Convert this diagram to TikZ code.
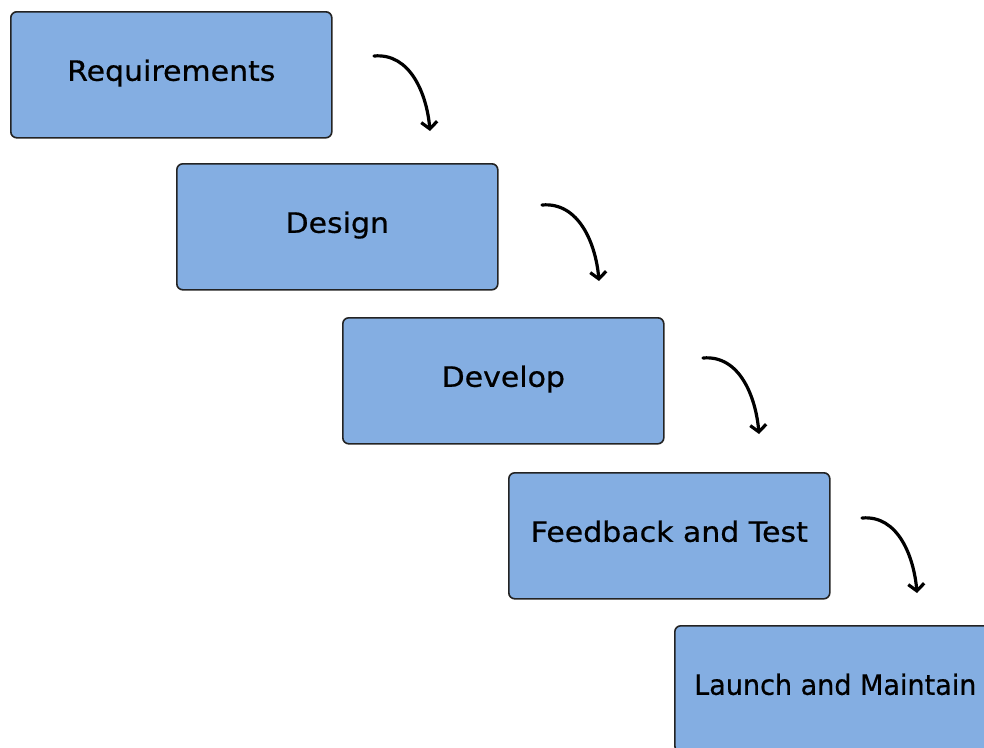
\documentclass[tikz,border=0pt]{standalone}
\usepackage{fontspec}
\setmainfont{DejaVu Sans}
\newfontfamily\stagefont[FakeStretch=1.07,FakeBold=0.6]{DejaVu Sans}
\newfontfamily\narrowstagefont[FakeStretch=0.965,FakeBold=0.6]{DejaVu Sans}
\usetikzlibrary{arrows.meta}
\definecolor{stagefill}{RGB}{132,174,226}
\definecolor{stageline}{RGB}{35,35,35}
\begin{document}
\begin{tikzpicture}[x=1pt,y=-1pt,
  stagebox/.style={draw=stageline, line width=1.6pt, fill=stagefill,
    rounded corners=6pt, minimum width=321pt, minimum height=126pt,
    inner sep=0pt, text height=22pt, text depth=10pt,
    font=\stagefont\fontsize{28}{32}\selectfont, anchor=north west},
  flow/.style={line width=3.2pt, line cap=round,
    -{Straight Barb[length=7pt,width=16pt,line width=3.2pt]}}]
  \useasboundingbox (0,0) rectangle (984,747);
  \node[stagebox] (req) at (10,11) {Requirements};
  \node[stagebox] (des) at (176,163) {Design};
  \node[stagebox] (dev) at (342,317) {Develop};
  \node[stagebox] (fbt) at (508,472) {Feedback and Test};
  \node[stagebox, font=\narrowstagefont\fontsize{28}{32}\selectfont]
    (lam) at (674,625) {Launch and Maintain};
  % arrow ends between the stages
  \coordinate (a1s) at (374,56);  \coordinate (a1e) at (430,131);
  \coordinate (a2s) at (542,205); \coordinate (a2e) at (599,281);
  \coordinate (a3s) at (703,358); \coordinate (a3e) at (759,434);
  \coordinate (a4s) at (862,518); \coordinate (a4e) at (917,593);
  \draw[flow] (a1s) to[out=5,in=95] (a1e);
  \draw[flow] (a2s) to[out=5,in=95] (a2e);
  \draw[flow] (a3s) to[out=5,in=95] (a3e);
  \draw[flow] (a4s) to[out=5,in=95] (a4e);
\end{tikzpicture}
\end{document}
